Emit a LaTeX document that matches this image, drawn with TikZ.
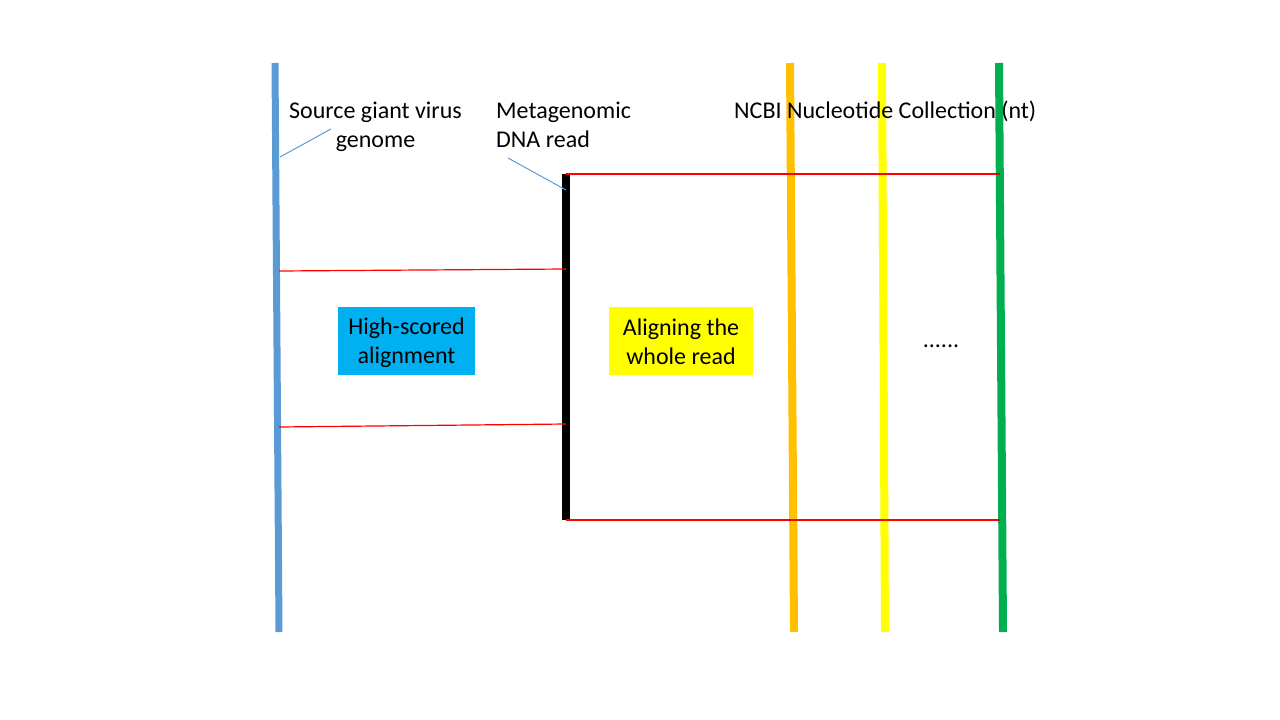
\documentclass[tikz,border=0pt]{standalone}
\usepackage{fontspec}
\setmainfont{Carlito}
\definecolor{vblue}{HTML}{5B9BD5}
\definecolor{vorange}{HTML}{FFC000}
\definecolor{vyellow}{HTML}{FFFF00}
\definecolor{vgreen}{HTML}{00B050}
\definecolor{vcyan}{HTML}{00B0F0}
\tikzset{
  txt/.style={inner sep=0pt, font=\fontsize{24}{29}\selectfont, align=center},
  seq/.style={line width=7pt},
  hit/.style={red, line width=1.2pt},
  leader/.style={vblue, line width=1pt}
}
\begin{document}
\begin{tikzpicture}[x=1pt,y=-1pt]
\useasboundingbox (0,0) rectangle (1280,720);
% sequences
\coordinate (gt) at (275,63); \coordinate (gb) at (279,632);
\draw[seq, vblue] (gt) -- (gb);
\coordinate (rt) at (566,174); \coordinate (rb) at (566,520);
\draw[line width=8pt, black] (rt) -- (rb);
\draw[seq, line width=8pt, vorange] (790,63) -- (794,632);
\draw[seq, line width=8pt, vyellow] (882,63) -- (885,632);
\draw[seq, line width=8pt, vgreen] (999,63) -- (1003,632);
% hits
\coordinate (a1) at (279,271); \coordinate (b1) at (566,269);
\coordinate (a2) at (279,427); \coordinate (b2) at (566,424);
\coordinate (c1) at (1000,174); \coordinate (c2) at (1000,520);
\draw[hit] (a1) -- (b1);
\draw[hit] (a2) -- (b2);
\draw[hit] (rt) -- (c1);
\draw[hit] (rb) -- (c2);
% labels
\node[txt] (src) at (375.5,127) {Source giant virus\\genome};
\node[txt, align=left, anchor=west] (meta) at (496,125) {Metagenomic\\DNA read};
\node[txt, anchor=west] (ncbi) at (734,111) {NCBI Nucleotide Collection (nt)};
\coordinate (l1a) at (280,157); \coordinate (l1b) at (331,129);
\coordinate (l2a) at (508,158); \coordinate (l2b) at (566,190);
\draw[leader] (l1a) -- (l1b);
\draw[leader] (l2a) -- (l2b);
% boxes
\fill[vcyan] (338,307) rectangle (475,375);
\fill[vyellow] (609,307) rectangle (753,375);
\node[txt] (hs) at (406.5,343) {High-scored\\alignment};
\node[txt] (aw) at (681,341.5) {Aligning the \\whole read};
\node[txt] (dots) at (941,346) {......};
\end{tikzpicture}
\end{document}
